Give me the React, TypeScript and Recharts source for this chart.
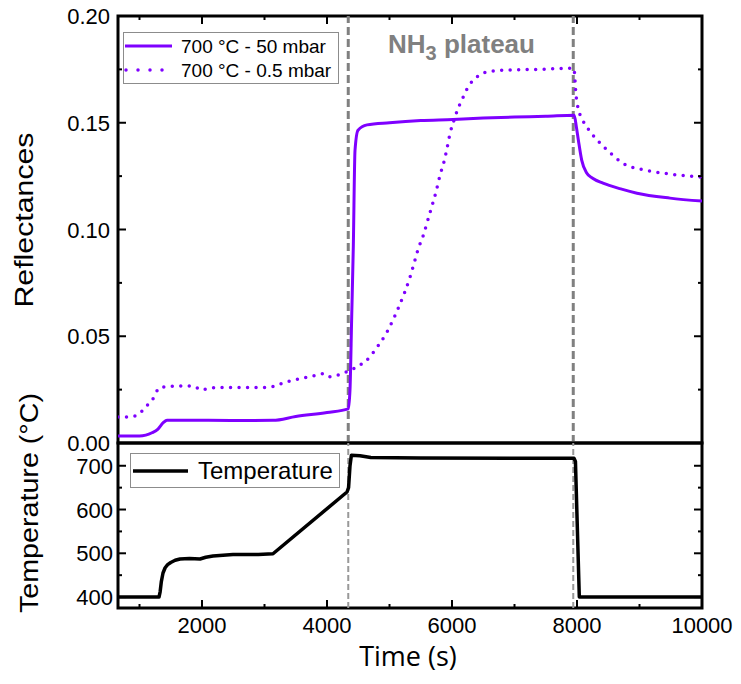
import React from "react";
import { LineChart, Line, XAxis, YAxis, ReferenceLine, ReferenceArea } from "recharts";

// ---------------- data ----------------
const TIME_MIN = 656;
const TIME_MAX = 10000;

const solidTime = [656, 1000, 1100, 1200, 1296, 1380, 1440, 1700, 2500, 3136, 3500, 4000, 4340, 4368, 4395, 4421, 4448, 4496, 4640, 5000, 5500, 6016, 6500, 7000, 7500, 7955, 7990, 8021, 8075, 8155, 8250, 8416, 8700, 8960, 9488, 10000];
const solidRefl = [0.0033, 0.0033, 0.0037, 0.0048, 0.0065, 0.0095, 0.0107, 0.0107, 0.0105, 0.0106, 0.0124, 0.0143, 0.016, 0.025, 0.059, 0.092, 0.137, 0.1465, 0.149, 0.15, 0.151, 0.1515, 0.1522, 0.1527, 0.153, 0.1535, 0.148, 0.142, 0.1325, 0.1265, 0.124, 0.1217, 0.119, 0.117, 0.1147, 0.1133];

const dottedTime = [656, 848, 1008, 1100, 1200, 1328, 1500, 1760, 1900, 1968, 2100, 2240, 3040, 3360, 3840, 3950, 4048, 4200, 4320, 4500, 4688, 4768, 4960, 5056, 5152, 5248, 5328, 5392, 5461, 5541, 5605, 5675, 5744, 5808, 5872, 5925, 5968, 6032, 6085, 6155, 6235, 6315, 6384, 6475, 6555, 6816, 7355, 7950, 7984, 8016, 8160, 8320, 8528, 8736, 9056, 9376, 10000];
const dottedRefl = [0.0122, 0.0122, 0.014, 0.017, 0.02, 0.026, 0.0265, 0.0267, 0.0262, 0.0248, 0.0255, 0.026, 0.026, 0.0287, 0.0318, 0.0325, 0.031, 0.032, 0.0334, 0.036, 0.0404, 0.0435, 0.052, 0.0576, 0.064, 0.071, 0.0777, 0.084, 0.0911, 0.0973, 0.1036, 0.1106, 0.1176, 0.1254, 0.1317, 0.1387, 0.1449, 0.1512, 0.1558, 0.1605, 0.1655, 0.1691, 0.1711, 0.173, 0.1738, 0.1746, 0.175, 0.1755, 0.163, 0.157, 0.148, 0.142, 0.136, 0.131, 0.128, 0.1264, 0.1245];

const tempTime = [656, 1312, 1330, 1350, 1376, 1410, 1450, 1500, 1570, 1648, 1800, 1968, 2060, 2176, 2496, 2900, 3136, 4320, 4345, 4368, 4390, 4528, 4700, 5500, 7000, 7952, 7975, 8037, 10000];
const tempValue = [400, 400, 412, 436, 455, 467, 474, 479, 484, 487, 488, 487, 491, 494, 497, 497, 499, 640, 650, 700, 724, 723, 719, 718, 717, 717, 710, 400, 400];

const timeTicks = [1000, 2000, 3000, 4000, 5000, 6000, 7000, 8000, 9000, 10000];
const timeLabels = [2000, 4000, 6000, 8000, 10000];
const reflTicks = [0, 0.025, 0.05, 0.075, 0.1, 0.125, 0.15, 0.175, 0.2];
const reflLabels = [0, 0.05, 0.1, 0.15, 0.2];
const tempTicks = [400, 450, 500, 550, 600, 650, 700];
const tempLabels = [400, 500, 600, 700];
const plateauBounds = [4340, 7940];

const REFL_DOMAIN = [0, 0.2];
const TEMP_DOMAIN = [375, 752];

const solidLabel = "700 °C - 50 mbar";
const dottedLabel = "700 °C - 0.5 mbar";
const tempLabel = "Temperature";

// ---------------- layout ----------------
const W = 741;
const H = 684;
const L = 118;
const R = 702;
const T = 16;
const M = 443;
const B = 608;
const AX_W = 60;
const AX_H = 30;
const PURPLE = "#7f00ff";
const TICK_FONT = "'Liberation Sans', Arial, sans-serif";

const solidData = solidTime.map((t, i) => ({ t, r: solidRefl[i] }));
const dottedData = dottedTime.map((t, i) => ({ t, r: dottedRefl[i] }));
const tempData = tempTime.map((t, i) => ({ t, v: tempValue[i] }));

const TopXTick = (props: any) => {
  const { x, payload } = props;
  const major = timeLabels.includes(payload.value);
  const len = major ? 8 : 4;
  return (
    <g>
      <line x1={x} x2={x} y1={T} y2={T + len} stroke="#000" strokeWidth={2} />
    </g>
  );
};

const BottomXTick = (props: any) => {
  const { x, payload } = props;
  const major = timeLabels.includes(payload.value);
  const len = major ? 8 : 4;
  return (
    <g>
      <line x1={x} x2={x} y1={B} y2={B - len} stroke="#000" strokeWidth={2} />
      {major && (
        <text x={x} y={B + 25} textAnchor="middle" fontSize={22} fontFamily={TICK_FONT} fill="#000">
          {payload.value}
        </text>
      )}
    </g>
  );
};

const makeYTick = (labels: number[], fmt: (v: number) => string, labelRight: number) => (props: any) => {
  const { y, payload } = props;
  const major = labels.some((v) => Math.abs(v - payload.value) < 1e-9);
  const len = major ? 8 : 4;
  return (
    <g>
      <line x1={L} x2={L + len} y1={y} y2={y} stroke="#000" strokeWidth={2} />
      <line x1={R} x2={R - len} y1={y} y2={y} stroke="#000" strokeWidth={2} />
      {major && (
        <text x={labelRight} y={y + 8} textAnchor="end" fontSize={22} fontFamily={TICK_FONT} fill="#000">
          {fmt(payload.value)}
        </text>
      )}
    </g>
  );
};

const ReflTick = makeYTick(reflLabels, (v) => v.toFixed(2), 110);
const TempTick = makeYTick(tempLabels, (v) => String(v), 113);

export default function App() {
  return (
    <div style={{ position: "absolute", left: 0, top: 0, width: W, height: H, background: "#fff" }}>
      {/* top panel: reflectances */}
      <div style={{ position: "absolute", left: 0, top: 0 }}>
        <LineChart width={W} height={H} margin={{ top: T, right: W - R, bottom: H - M - AX_H, left: L - AX_W }}>
          <XAxis
            dataKey="t"
            type="number"
            domain={[TIME_MIN, TIME_MAX]}
            allowDataOverflow
            ticks={timeTicks}
            interval={0}
            height={AX_H}
            axisLine={false}
            tickLine={false}
            tick={TopXTick}
          />
          <YAxis
            type="number"
            domain={REFL_DOMAIN}
            allowDataOverflow
            ticks={reflTicks}
            interval={0}
            width={AX_W}
            axisLine={false}
            tickLine={false}
            tick={ReflTick}
          />
          {plateauBounds.map((x) => (
            <ReferenceLine key={x} x={x} stroke="#808080" strokeWidth={3} strokeDasharray="8 4" />
          ))}
          <Line
            data={dottedData}
            dataKey="r"
            type="monotone"
            stroke={PURPLE}
            strokeWidth={3.5}
            strokeDasharray="0 8.5"
            strokeLinecap="round"
            dot={false}
            isAnimationActive={false}
          />
          <Line
            data={solidData}
            dataKey="r"
            type="monotone"
            stroke={PURPLE}
            strokeWidth={3}
            dot={false}
            isAnimationActive={false}
          />
          <ReferenceArea
            x1={TIME_MIN}
            x2={TIME_MAX}
            y1={REFL_DOMAIN[0]}
            y2={REFL_DOMAIN[1]}
            fill="none"
            fillOpacity={0}
            stroke="#000"
            strokeWidth={3}
          />
        </LineChart>
      </div>

      {/* bottom panel: temperature */}
      <div style={{ position: "absolute", left: 0, top: 0 }}>
        <LineChart width={W} height={H} margin={{ top: M, right: W - R, bottom: H - B - AX_H, left: L - AX_W }}>
          <XAxis
            dataKey="t"
            type="number"
            domain={[TIME_MIN, TIME_MAX]}
            allowDataOverflow
            ticks={timeTicks}
            interval={0}
            height={AX_H}
            axisLine={false}
            tickLine={false}
            tick={BottomXTick}
          />
          <YAxis
            type="number"
            domain={TEMP_DOMAIN}
            allowDataOverflow
            ticks={tempTicks}
            interval={0}
            width={AX_W}
            axisLine={false}
            tickLine={false}
            tick={TempTick}
          />
          {plateauBounds.map((x) => (
            <ReferenceLine key={x} x={x} stroke="#999999" strokeWidth={2} strokeDasharray="6 3" />
          ))}
          <Line
            data={tempData}
            dataKey="v"
            type="linear"
            stroke="#000"
            strokeWidth={3.5}
            strokeLinejoin="round"
            dot={false}
            isAnimationActive={false}
          />
          <ReferenceArea
            x1={TIME_MIN}
            x2={TIME_MAX}
            y1={TEMP_DOMAIN[0]}
            y2={TEMP_DOMAIN[1]}
            fill="none"
            fillOpacity={0}
            stroke="#000"
            strokeWidth={3}
          />
        </LineChart>
      </div>

      {/* titles, legends and annotation */}
      <svg width={W} height={H} style={{ position: "absolute", left: 0, top: 0, pointerEvents: "none" }}>
        <text
          transform="translate(33,220) rotate(-90)"
          textAnchor="middle"
          fontSize={25}
          fontFamily={TICK_FONT}
          textLength={175}
          lengthAdjust="spacingAndGlyphs"
          fill="#000"
        >
          Reflectances
        </text>
        <text
          transform="translate(38,503) rotate(-90)"
          textAnchor="middle"
          fontSize={25}
          fontFamily={TICK_FONT}
          textLength={220}
          lengthAdjust="spacingAndGlyphs"
          fill="#000"
        >
          Temperature (°C)
        </text>
        <text x={408} y={666} textAnchor="middle" fontSize={27} fontFamily="'Open Sans', sans-serif" fill="#000">
          Time (s)
        </text>

        <text x={388} y={53} fontSize={26} fontWeight="bold" fontFamily={TICK_FONT} fill="#808080">
          NH
          <tspan fontSize={20} dy={7}>3</tspan>
          <tspan dy={-7}> plateau</tspan>
        </text>

        {/* top legend */}
        <rect x={123.5} y={32.5} width={215} height={51} fill="#fff" stroke="#8c8c8c" strokeWidth={1} />
        <line x1={125} x2={172} y1={46} y2={46} stroke={PURPLE} strokeWidth={3} />
        <line x1={126} x2={172} y1={70} y2={70} stroke={PURPLE} strokeWidth={3.5} strokeDasharray="0 12" strokeLinecap="round" />
        <text x={181} y={53} fontSize={19} fontFamily={TICK_FONT} fill="#000">{solidLabel}</text>
        <text x={181} y={77} fontSize={19} fontFamily={TICK_FONT} fill="#000">{dottedLabel}</text>

        {/* bottom legend */}
        <rect x={130.5} y={453.5} width={209} height={34} fill="#fff" stroke="#8c8c8c" strokeWidth={1} />
        <line x1={133} x2={188} y1={471} y2={471} stroke="#000" strokeWidth={3.5} />
        <text x={198} y={479} fontSize={24} fontFamily={TICK_FONT} fill="#000">{tempLabel}</text>
      </svg>
    </div>
  );
}
